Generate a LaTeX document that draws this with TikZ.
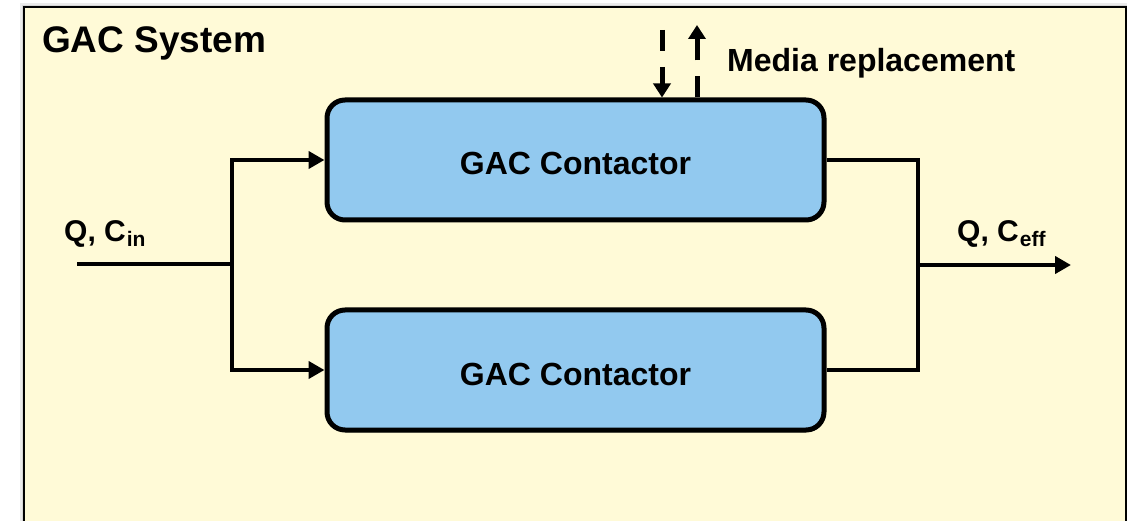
\documentclass[tikz,border=0pt]{standalone}
\usepackage{fontspec}
\setmainfont{Liberation Sans}
\usetikzlibrary{arrows.meta,shadows}
\definecolor{panelfill}{HTML}{FFFAD7}
\definecolor{unitfill}{HTML}{92C9EF}
\newcommand{\fsz}[1]{\fontsize{#1}{#1}\selectfont\bfseries}
\tikzset{
  contactor/.style={draw=black, line width=5pt, fill=unitfill,
    rounded corners=18pt, minimum width=497pt, minimum height=120pt,
    inner sep=0pt, text height=32pt, text depth=2pt,
    drop shadow={shadow xshift=1pt, shadow yshift=-2pt, fill=black, opacity=1},
    font=\fsz{32}},
  pipeline/.style={line width=4.6pt},
  feed/.style={line width=4.6pt, -{Triangle[length=16pt,width=17pt]}},
  mediaflow/.style={line width=5pt, dash pattern=on 21pt off 16pt,
    -{Triangle[length=14pt,width=17pt]}},
  tag/.style={anchor=base west, inner sep=0pt, font=\fsz{30}}
}
\begin{document}
\begin{tikzpicture}[x=1pt,y=-1pt]
  \clip (0,0) rectangle (1130,521);
  \fill[white] (0,0) rectangle (1130,521);
  % soft shadow and system boundary
  \fill[black!8] (20,3) rectangle (1127,540);
  \fill[black!16] (22,5) rectangle (1127,540);
  \draw[line width=2pt, fill=panelfill] (24,7) rectangle (1126,540);

  \node[tag, font=\fsz{37}] (title) at (42,53) {GAC System};

  % parallel contactors
  \node[contactor] (c1) at (575.5,160) {GAC Contactor};
  \node[contactor] (c2) at (575.5,370) {GAC Contactor};

  % influent split
  \coordinate (src) at (77,264);
  \coordinate (split) at (232,264);
  \draw[pipeline] (src) -- (split);
  \draw[feed] (split) |- (c1.west);
  \draw[feed] (split) |- (c2.west);
  \node[tag] (inq) at (64,242) {Q, C\kern1pt\raisebox{-5pt}{\fsz{21}in}};

  % effluent merge
  \coordinate (merge) at (918,265);
  \coordinate (sink) at (1071,265);
  \draw[pipeline] (c1.east) -| (merge) |- (c2.east);
  \draw[feed] (merge) -- (sink);
  \node[tag] (outq) at (957,242) {Q, C\kern1pt\raisebox{-5pt}{\fsz{21}eff}};

  % media exchange
  \coordinate (mediain) at (662,30);
  \coordinate (mediaout) at (697,25);
  \draw[mediaflow] (mediain) -- (mediain |- c1.north);
  \draw[mediaflow] (mediaout |- c1.north) -- (mediaout);
  \node[tag, font=\fsz{32}] (media) at (727,72) {Media replacement};
\end{tikzpicture}
\end{document}
